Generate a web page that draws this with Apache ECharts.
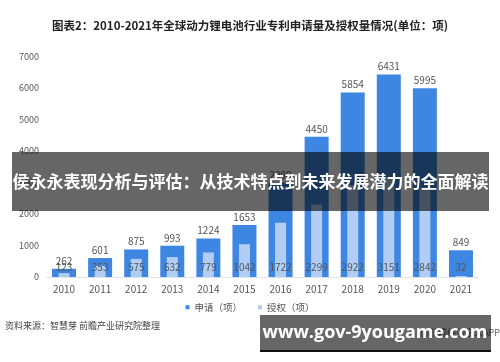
<!DOCTYPE html>
<html><head><meta charset="utf-8">
<script src="https://cdn.jsdelivr.net/npm/echarts@6/dist/echarts.min.js"></script>
<style>html,body{margin:0;padding:0;background:#fff}#c{width:500px;height:362px}</style>
</head><body><div id="c"></div>
<script>
const years = ['2010','2011','2012','2013','2014','2015','2016','2017','2018','2019','2020','2021'];
const applications = [262,601,875,993,1224,1653,2990,4450,5854,6431,5995,849];
const grants = [123,353,575,632,779,1042,1722,2299,2922,3151,2842,32];
const yTicks = {min:0, max:7000, interval:1000};
const titleText = '图表2：2010-2021年全球动力锂电池行业专利申请量及授权量情况(单位：项)';
const sourceText = '资料来源：智慧芽 前瞻产业研究院整理';
const bandText = '侯永永表现分析与评估：从技术特点到未来发展潜力的全面解读';
const urlText = 'www.gov-9yougame.com';

const chart = echarts.init(document.getElementById('c'), null, {renderer:'canvas'});
const font = '"Noto Sans CJK SC", "Noto Sans", sans-serif';
chart.setOption({
  animation:false,
  title:{text:titleText, left:'center', top:15, textStyle:{fontSize:11.5, fontWeight:'bold', color:'#222', fontFamily:font}},
  legend:{bottom:45, left:'center', itemWidth:4, itemHeight:4, itemGap:16, icon:'rect',
    textStyle:{fontSize:9.5, color:'#555', fontFamily:font}},
  grid:{left:46, right:21, top:56.5, bottom:85},
  xAxis:[
    {type:'category', data:years, axisTick:{show:false}, axisLine:{lineStyle:{color:'#dde3ea'}},
     axisLabel:{fontSize:10, color:'#555', margin:7, fontFamily:font}},
    {type:'category', data:years, show:false}
  ],
  yAxis:{type:'value', min:yTicks.min, max:yTicks.max, interval:yTicks.interval, splitLine:{show:false},
    axisLine:{show:false}, axisTick:{show:false},
    axisLabel:{fontSize:9, color:'#555', margin:7, fontFamily:font, formatter:v => String(v)}},
  series:[
    {name:'申请（项）', type:'bar', data:applications, xAxisIndex:0, barWidth:24,
     itemStyle:{color:'#3d86e2'},
     label:{show:true, position:'top', distance:3, fontSize:10, color:'#555', fontFamily:font}},
    {name:'授权（项）', type:'bar', data:grants, xAxisIndex:1, barWidth:11,
     itemStyle:{color:'#b1cdf3'},
     label:{show:true, position:'insideBottom', distance:5, fontSize:10, color:'#555', fontFamily:font}}
  ],
  graphic:[
    {type:'text', left:5, top:321, style:{text:sourceText, fontSize:9, fill:'#444', fontFamily:font}},
    {type:'text', right:0, top:328, z:1, style:{text:'@前瞻经济学人APP', fontSize:9, fill:'#666', fontFamily:font}},
    {type:'rect', shape:{x:12, y:152, width:477, height:59}, z:10, style:{fill:'rgba(0,0,0,0.6)'}},
    {type:'text', x:250.5, y:182, z:11, style:{text:bandText, fontSize:17, fontWeight:'bold', fill:'#fff',
      align:'center', verticalAlign:'middle', fontFamily:font}},
    {type:'rect', shape:{x:260, y:315, width:231, height:37}, z:10, style:{fill:'rgba(0,0,0,0.6)'}},
    {type:'rect', shape:{x:260, y:350, width:231, height:2}, z:10, style:{fill:'#111'}},
    {type:'text', x:375, y:333, z:11, style:{text:urlText, fontSize:18, fontWeight:'bold', fill:'#fff',
      align:'center', verticalAlign:'middle', fontFamily:'"Open Sans", "DejaVu Sans", sans-serif'}}
  ]
});
</script></body></html>
